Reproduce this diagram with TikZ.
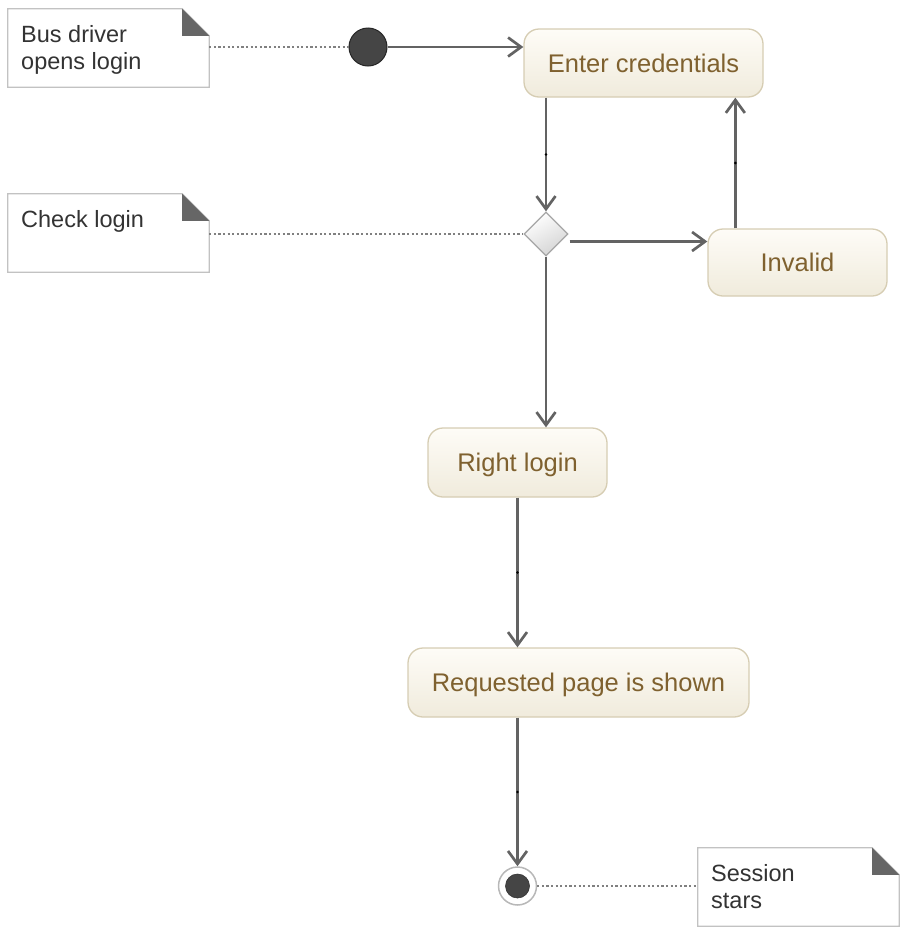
\documentclass[tikz,border=0pt]{standalone}
\usepackage{fontspec}
\setmainfont{Liberation Sans}
\usetikzlibrary{arrows.meta,shapes.geometric,calc}
\definecolor{boxtext}{HTML}{7F612F}
\definecolor{boxborder}{HTML}{D6CDB3}
\definecolor{boxtop}{HTML}{FEFCF7}
\definecolor{boxbot}{HTML}{F0EBDC}
\definecolor{arrcol}{HTML}{636363}
\definecolor{notecol}{HTML}{C2C2C2}
\definecolor{foldcol}{HTML}{666666}
\definecolor{dotcol}{HTML}{808080}
\definecolor{notetxt}{HTML}{333333}
\begin{document}
\begin{tikzpicture}[x=1pt,y=-1pt,
  actbox/.style={rectangle, rounded corners=15pt, draw=boxborder, line width=1.3pt,
    top color=boxtop, bottom color=boxbot, text=boxtext,
    font=\fontsize{25.5}{30}\selectfont, text height=18.5pt, text depth=0pt, inner sep=0pt},
  notebox/.style={rectangle, draw=none, minimum width=201pt, minimum height=78pt, inner sep=0pt},
  noteborder/.style={draw=notecol, line width=1.3pt, fill=white},
  notetext/.style={font=\fontsize{23.5}{28}\selectfont, text=notetxt, inner sep=0pt},
  arr/.style={draw=arrcol, line width=2.7pt, -{Straight Barb[length=13pt,width=19pt]}},
  dotl/.style={draw=dotcol, line width=2.6pt, dash pattern=on 2.2pt off 2.4pt},
  middot/.style={fill=black}
]
\useasboundingbox (0,0) rectangle (910,940);

% activity boxes
\node[actbox, minimum width=239pt, minimum height=68pt] (ec) at (643.5,63) {Enter credentials};
\node[actbox, minimum width=179pt, minimum height=67pt] (inv) at (797.5,262.5) {Invalid};
\node[actbox, minimum width=179pt, minimum height=69pt] (rl) at (517.5,462.5) {Right login};
\node[actbox, minimum width=341pt, minimum height=69pt] (rp) at (578.5,682.5) {Requested page is shown};

% decision
\node[diamond, aspect=1, minimum width=44pt, minimum height=44pt, inner sep=0pt,
  draw=black!35, line width=1.3pt, top color=white, bottom color=black!17, shading angle=30] (dia) at (546,234) {};

% initial and final
\node[circle, minimum size=38pt, inner sep=0pt, fill=black!73, draw=black!85, line width=1pt] (init) at (368,47) {};
\node[circle, minimum size=38pt, inner sep=0pt, fill=white, draw=black!28, line width=1.5pt] (fin) at (517.5,886) {};
\node[circle, minimum size=24pt, inner sep=0pt, fill=black!73, draw=black!80, line width=0.6pt] (finin) at (fin.center) {};

% notes
\node[notebox] (n1) at (108.5,48) {};
\node[notebox] (n2) at (108.5,233) {};
\node[notebox] (n3) at (798.5,887) {};
\foreach \n in {n1,n2,n3}{
  \coordinate (\n a) at ([xshift=-27pt]\n.north east);
  \coordinate (\n b) at ([yshift=-27pt]\n.north east);
  \path[noteborder] (\n.north west) -- (\n a) -- (\n b) -- (\n.south east) -- (\n.south west) -- cycle;
  \fill[foldcol] (\n a) -- (\n b) -- (\n a |- \n b) -- cycle;
}
\node[notetext, anchor=base west] (n1l1) at (21,42) {Bus driver};
\node[notetext, anchor=base west] (n1l2) at (21,69) {opens login};
\node[notetext, anchor=base west] (n2l1) at (21,227) {Check login};
\node[notetext, anchor=base west] (n3l1) at (711,881) {Session};
\node[notetext, anchor=base west] (n3l2) at (711,908) {stars};

% dotted note links
\draw[dotl] (n1.east |- init.center) -- (init.west);
\draw[dotl] (n2.east |- dia.center) -- (dia.west);
\draw[dotl] (fin.east) -- (n3.west |- fin.center);

% flows
\draw[arr] (init.east) -- (init.east -| ec.west);
\draw[arr] (dia.north |- ec.south) -- coordinate[pos=0.5] (m1) (dia.north);
\coordinate (d1) at ([yshift=-7.5pt]dia.east);
\draw[arr] ([xshift=1pt]d1) -- (d1 -| inv.west);
\coordinate (u1) at ([xshift=28pt]inv.north west);
\draw[arr] (u1) -- coordinate[pos=0.5] (m2) (u1 |- ec.south);
\draw[arr] (dia.south) -- (dia.south |- rl.north);
\draw[arr] (rl.south) -- coordinate[pos=0.5] (m3) (rl.south |- rp.north);
\draw[arr] (fin.north |- rp.south) -- coordinate[pos=0.5] (m4) (fin.north);

\foreach \m in {m1,m2,m3,m4}{ \fill[middot] (\m) circle[radius=1.4pt]; }
\end{tikzpicture}
\end{document}
